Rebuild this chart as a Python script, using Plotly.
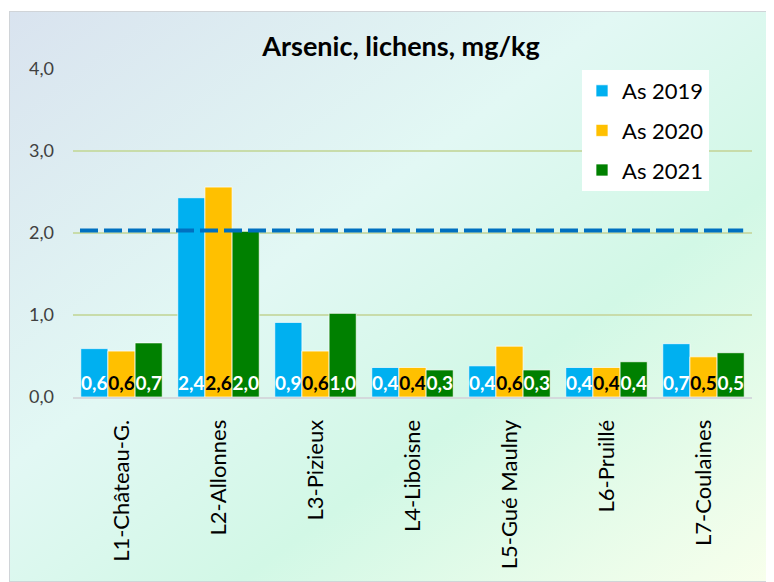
import plotly.graph_objects as go
import base64

categories = ["L1-Château-G.", "L2-Allonnes", "L3-Pizieux", "L4-Liboisne",
              "L5-Gué Maulny", "L6-Pruillé", "L7-Coulaines"]
as_2019 = [0.59, 2.43, 0.91, 0.36, 0.38, 0.36, 0.65]
as_2020 = [0.56, 2.56, 0.56, 0.36, 0.62, 0.36, 0.49]
as_2021 = [0.66, 2.02, 1.02, 0.33, 0.33, 0.43, 0.54]
series_names = ["As 2019", "As 2020", "As 2021"]
threshold = 2.03
y_ticks = [0, 1, 2, 3, 4]

colors = ["#00B0F0", "#FFC000", "#008000"]
text_colors = ["white", "black", "white"]
FONT = "Lato"

# page body has an 8px margin; work in page coordinates minus that offset
OFF = 8
W, H = 774 - OFF, 582 - OFF
L, R, T, B = 73 - OFF, 752 - OFF, 69 - OFF, 397 - OFF
pw, ph = R - L, B - T

fig = go.Figure()
for i, (name, vals) in enumerate(zip(series_names, [as_2019, as_2020, as_2021])):
    fig.add_trace(go.Bar(
        x=categories, y=vals, name=name,
        marker=dict(color=colors[i], line=dict(color="rgba(255,255,255,0.7)", width=1)),
        texttemplate="%{y:.1f}", textposition="inside", insidetextanchor="start",
        textangle=0, constraintext="none",
        textfont=dict(family=FONT, size=19, color=text_colors[i], weight="bold"),
        legendgroup=name, hoverinfo="x+y+name",
    ))

fig.add_shape(type="line", xref="paper", yref="y", x0=0.0103, x1=0.987,
              y0=threshold, y1=threshold,
              line=dict(color="#0070C0", width=4, dash="18px,6px"), layer="above")

bw, bh = W - (9 - OFF), H - (11 - OFF)
svg = (f'<svg xmlns="http://www.w3.org/2000/svg" width="{bw}" height="{bh}">'
       '<defs><linearGradient id="g" x1="0" y1="0" x2="1" y2="1">'
       '<stop offset="0" stop-color="#d9e3ef"/>'
       '<stop offset="0.4" stop-color="#e2f8f4"/>'
       '<stop offset="0.65" stop-color="#d2f8e6"/>'
       '<stop offset="1" stop-color="#f8ffec"/>'
       '</linearGradient></defs>'
       f'<rect width="{bw}" height="{bh}" fill="url(#g)" stroke="#d0d4d8" stroke-width="2"/></svg>')
src = "data:image/svg+xml;base64," + base64.b64encode(svg.encode()).decode()

fig.add_layout_image(dict(
    source=src, xref="paper", yref="paper",
    x=((9 - OFF) - L) / pw, y=(B - (11 - OFF)) / ph, sizex=bw / pw, sizey=bh / ph,
    xanchor="left", yanchor="top", sizing="stretch", layer="below", opacity=1,
))

fig.update_layout(
    width=W, height=H,
    margin=dict(l=L, r=W - R, t=T, b=H - B, autoexpand=False),
    paper_bgcolor="white", plot_bgcolor="#f3fffe",
    separators=", ",
    barmode="group", bargap=0.16, bargroupgap=0,
    font=dict(family=FONT, color="#404040"),
    title=dict(text="<b>Arsenic, lichens, mg/kg</b>", x=(401 - OFF) / W, xref="container",
               y=1 - (47 - OFF) / H, yref="container", xanchor="center", yanchor="middle",
               font=dict(family=FONT, size=27, color="black")),
    legend=dict(x=(582 - OFF - L) / pw, y=(B - (70 - OFF)) / ph, xanchor="left", yanchor="top",
                bgcolor="white", font=dict(family=FONT, size=22, color="black"),
                tracegroupgap=8, itemwidth=30),
    showlegend=True,
)
fig.update_xaxes(tickangle=-90, tickfont=dict(family=FONT, size=22, color="black"),
                 showline=True, linecolor="#d4d9dc", linewidth=2, ticks="",
                 showgrid=False, automargin=False, ticklabelstandoff=12)
fig.update_yaxes(range=[0, 4], tickvals=y_ticks, tickformat=".1f",
                 tickfont=dict(family=FONT, size=18, color="#404040"),
                 showgrid=True, gridcolor="#c8dcaa", gridwidth=1.5,
                 zeroline=False, ticks="", ticklabelstandoff=18, automargin=False)

fig.write_html("out.html")
